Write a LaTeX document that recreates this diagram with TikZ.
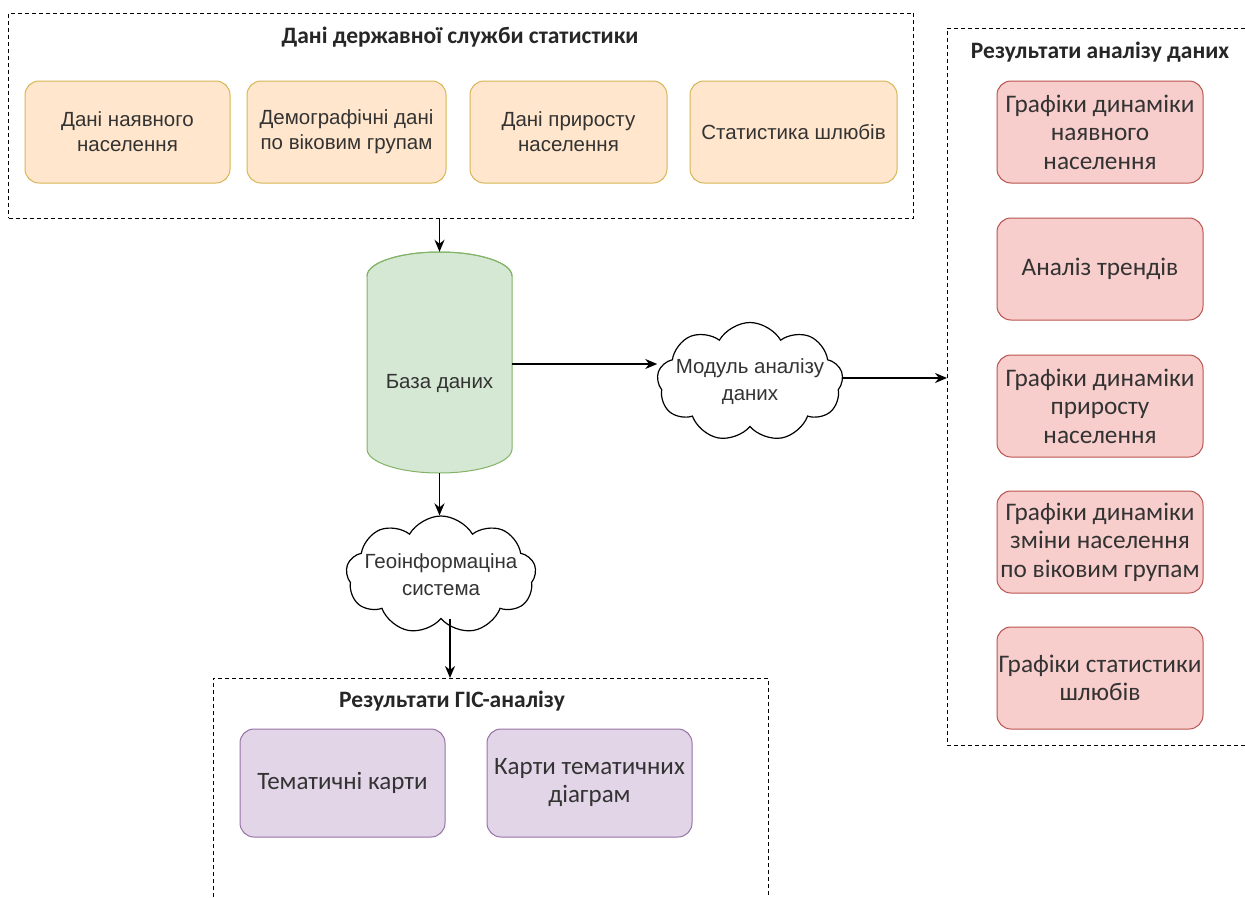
\documentclass[tikz,border=0pt]{standalone}
\usepackage{fontspec}
\setmainfont{Liberation Sans}
\newfontfamily\calfont{Carlito}
\usetikzlibrary{arrows.meta,shapes.symbols,shapes.geometric}
\definecolor{ofill}{HTML}{FFE6CC}
\definecolor{ostroke}{HTML}{D6B656}
\definecolor{gfill}{HTML}{D5E8D4}
\definecolor{gstroke}{HTML}{82B366}
\definecolor{pfill}{HTML}{E1D5E7}
\definecolor{pstroke}{HTML}{9673A6}
\definecolor{rfill}{HTML}{F8CECC}
\definecolor{rstroke}{HTML}{B85450}
\definecolor{txt}{HTML}{333333}
\tikzset{
  box/.style={rounded corners=14pt, line width=1pt, align=center, text=txt, inner sep=0pt},
  obox/.style={box, draw=ostroke, fill=ofill, minimum height=102pt, font=\fontsize{20.5}{25}\selectfont},
  rbox/.style={box, draw=rstroke, fill=rfill, minimum width=206pt, minimum height=102pt, font=\calfont\fontsize{25.3}{28.5}\selectfont},
  pbox/.style={box, draw=pstroke, fill=pfill, minimum width=205pt, minimum height=108pt, font=\calfont\fontsize{25}{28}\selectfont},
  grp/.style={draw, dashed, dash pattern=on 4pt off 3pt, line width=1pt},
  ttl/.style={font=\calfont\bfseries\fontsize{23.5}{26}\selectfont, text=black!85},
  cld/.style={cloud, cloud puffs=9, cloud puff arc=120, aspect=1.6, draw, line width=1.2pt, fill=white, inner sep=0pt},
  cldtext/.style={text=txt, align=center, inner sep=0pt, font=\fontsize{20.5}{27}\selectfont},
  arr/.style={-{Stealth[length=12pt,width=10pt]}, line width=1.8pt},
}
\begin{document}
\begin{tikzpicture}[x=1pt,y=-1pt]
\useasboundingbox[fill=white] (0,0) rectangle (1245,897);
% top group
\node[grp, minimum width=905pt, minimum height=205pt, inner sep=0pt] (topgrp) at (461,115.5) {};
\node[ttl] (toptitle) at (460,37) {Дані державної служби статистики};
\node[obox, minimum width=205pt] (o1) at (127.5,132) {Дані наявного\\населення};
\node[obox, minimum width=199pt] (o2) at (346.5,132) {Демографічні дані\\по віковим групам};
\node[obox, minimum width=197pt] (o3) at (568.5,132) {Дані приросту\\населення};
\node[obox, minimum width=207pt] (o4) at (793.5,132) {Статистика шлюбів};
% database cylinder
\draw[draw=gstroke, fill=gfill, line width=1pt]
  (367,276) -- (367,449) arc[start angle=180, end angle=360, x radius=72.5pt, y radius=24pt]
  -- (512,276) arc[start angle=0, end angle=180, x radius=72.5pt, y radius=24pt] -- cycle;
\draw[draw=gstroke, line width=1pt] (367,276) arc[start angle=180, end angle=360, x radius=72.5pt, y radius=-24pt];
\node[minimum width=145pt, minimum height=221pt, inner sep=0pt] (db) at (439.5,362.5) {};
\node[inner sep=0pt, text=txt, font=\fontsize{20.5}{25}\selectfont] (dblabel) at (439.5,383) {База даних};
% clouds
\node[cld, minimum width=186pt, minimum height=119pt] (mod) at (750,382) {};
\node[cldtext] (modtext) at (mod.center) {Модуль аналізу\\даних};
\node[cld, minimum width=190pt, minimum height=118pt] (geo) at (441,575) {};
\node[cldtext] (geotext) at (geo.center) {Геоінформаціна\\система};
% right group
\coordinate (rg) at (947,386);
\draw[grp] (1245,28) -- (947,28) -- (947,745) -- (1245,745);
\node[ttl] (rtitle) at (1100,52) {Результати аналізу даних};
\node[rbox] (r1) at (1100,132) {Графіки динаміки\\наявного\\населення};
\node[rbox] (r2) at (1100,269) {Аналіз трендів};
\node[rbox] (r3) at (1100,406) {Графіки динаміки\\приросту\\населення};
\node[rbox] (r4) at (1100,542) {Графіки динаміки\\зміни населення\\по віковим групам};
\node[rbox] (r5) at (1100,678) {Графіки статистики\\шлюбів};
% GIS group
\coordinate (gis) at (450,678);
\draw[grp] (213,897) -- (213,678) -- (768,678) -- (768,897);
\node[ttl] (gtitle) at (452,701) {Результати ГІС-аналізу};
\node[pbox] (p1) at (342.5,783) {Тематичні карти};
\node[pbox] (p2) at (589.5,783) {Карти тематичних\\діаграм};
% connectors
\draw[arr] (db.north |- topgrp.south) -- (db.north);
\draw[arr] (db.east |- 0,364) -- (mod.west |- 0,364);
\draw[arr] (mod.east |- 0,378) -- (rg |- 0,378);
\draw[arr] (db.south) -- (geo.north -| db.south);
\draw[arr] (geo.south -| gis) -- (gis);
\end{tikzpicture}
\end{document}
